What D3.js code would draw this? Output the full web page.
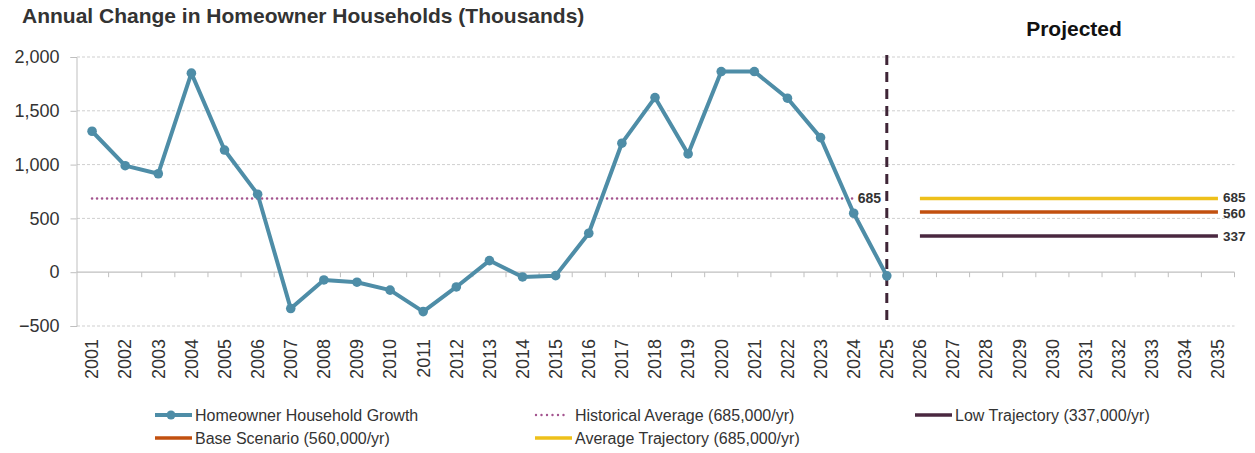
<!DOCTYPE html>
<html>
<head>
<meta charset="utf-8">
<script src="https://cdn.jsdelivr.net/npm/d3@7"></script>
<style>
  html, body { margin: 0; padding: 0; background: #fff; }
  svg { display: block; font-family: "Liberation Sans", Arial, sans-serif; }
</style>
</head>
<body>
<svg id="chart" width="1255" height="453"></svg>
<script>
// Historical years and annual change in homeowner households (thousands)
const histYears = [2001, 2002, 2003, 2004, 2005, 2006, 2007, 2008, 2009, 2010, 2011, 2012, 2013,
                   2014, 2015, 2016, 2017, 2018, 2019, 2020, 2021, 2022, 2023, 2024, 2025];
const histValues = [1310, 990, 915, 1850, 1135, 725, -338, -72, -93, -167, -366, -137, 108,
                    -44, -32, 362, 1199, 1623, 1099, 1865, 1865, 1617, 1251, 548, -34];

// Projection years
const projYears = [2026, 2027, 2028, 2029, 2030, 2031, 2032, 2033, 2034, 2035];
const allYears = histYears.concat(projYears);

// Reference levels (thousands per year)
const historicalAverage = 685;
const scenarioNames = ["Average Trajectory", "Base Scenario", "Low Trajectory"];
const scenarioValues = [685, 560, 337];
const scenarioColors = ["#EEC01A", "#C2500F", "#4A2840"];

const yTicks = [-500, 0, 500, 1000, 1500, 2000];

const legendLabels = [
  "Homeowner Household Growth",
  "Historical Average (685,000/yr)",
  "Low Trajectory (337,000/yr)",
  "Base Scenario (560,000/yr)",
  "Average Trajectory (685,000/yr)"
];

const growthColor = "#4E8DA7";
const avgColor = "#A3548F";
const dividerColor = "#3F2537";
const gridColor = "#cfcfcf";
const axisColor = "#bfbfbf";
const textColor = "#333333";

const svg = d3.select("#chart");

const x = d3.scaleBand().domain(allYears).range([75.5, 1234.5]).padding(0);
const cx = yr => x(yr) + x.bandwidth() / 2;
const y = d3.scaleLinear().domain([-500, 2000]).range([326, 57]);

// Title and section label
svg.append("text").attr("x", 22).attr("y", 23)
  .attr("font-size", 21).attr("font-weight", "bold").attr("fill", textColor)
  .text("Annual Change in Homeowner Households (Thousands)");
svg.append("text").attr("x", 1074).attr("y", 36).attr("text-anchor", "middle")
  .attr("font-size", 21).attr("font-weight", "bold").attr("fill", "#111")
  .text("Projected");

// Dashed horizontal gridlines
svg.append("g").selectAll("line").data(yTicks.filter(d => d !== 0)).join("line")
  .attr("x1", 77).attr("x2", 1234.5)
  .attr("y1", d => y(d)).attr("y2", d => y(d))
  .attr("stroke", gridColor).attr("stroke-width", 1).attr("stroke-dasharray", "3,2");

// Y axis
const yAxis = d3.axisLeft(y).tickValues(yTicks).tickSize(6).tickPadding(11)
  .tickFormat(d3.format(","));
const gy = svg.append("g").attr("transform", "translate(76.5,0)").call(yAxis);
gy.select(".domain").attr("stroke", axisColor);
gy.selectAll(".tick line").attr("stroke", axisColor);
gy.selectAll(".tick text").attr("font-size", 18).attr("fill", textColor)
  .attr("font-family", "Liberation Sans, Arial, sans-serif");

// Zero baseline with category boundary ticks
const zeroY = y(0);
svg.append("line").attr("x1", 76.5).attr("x2", 1234.5)
  .attr("y1", zeroY).attr("y2", zeroY).attr("stroke", axisColor).attr("stroke-width", 1.2);
svg.append("g").selectAll("line").data(allYears.slice(1).concat(["end"])).join("line")
  .attr("x1", d => d === "end" ? 1234.5 : x(d))
  .attr("x2", d => d === "end" ? 1234.5 : x(d))
  .attr("y1", zeroY).attr("y2", zeroY + 5)
  .attr("stroke", axisColor).attr("stroke-width", 1);

// Year labels along the bottom, rotated
svg.append("g").selectAll("text").data(allYears).join("text")
  .attr("transform", d => `translate(${cx(d)},339) rotate(-90)`)
  .attr("text-anchor", "end").attr("dy", "0.35em")
  .attr("font-size", 18).attr("fill", textColor)
  .text(d => d);

// Historical average (dotted)
svg.append("line")
  .attr("x1", cx(2001)).attr("x2", cx(2024))
  .attr("y1", y(historicalAverage)).attr("y2", y(historicalAverage))
  .attr("stroke", avgColor).attr("stroke-width", 2.6)
  .attr("stroke-dasharray", "0,5").attr("stroke-linecap", "round");
svg.append("text").attr("x", cx(2024) + 4).attr("y", y(historicalAverage))
  .attr("dy", "0.35em").attr("font-size", 14).attr("font-weight", "bold").attr("fill", textColor)
  .text(historicalAverage);

// Divider between history and projection
svg.append("line")
  .attr("x1", cx(2025)).attr("x2", cx(2025))
  .attr("y1", 55).attr("y2", 326)
  .attr("stroke", dividerColor).attr("stroke-width", 3)
  .attr("stroke-dasharray", "10,7");

// Homeowner household growth line
const line = d3.line().x((d, i) => cx(histYears[i])).y(d => y(d));
svg.append("path").datum(histValues)
  .attr("d", line).attr("fill", "none")
  .attr("stroke", growthColor).attr("stroke-width", 4).attr("stroke-linejoin", "round");
svg.append("g").selectAll("circle").data(histValues).join("circle")
  .attr("cx", (d, i) => cx(histYears[i])).attr("cy", d => y(d))
  .attr("r", 4.8).attr("fill", growthColor);

// Projection scenario lines and value labels
const first = projYears[0], last = projYears[projYears.length - 1];
svg.append("g").selectAll("line").data(scenarioValues).join("line")
  .attr("x1", cx(first)).attr("x2", cx(last))
  .attr("y1", d => y(d)).attr("y2", d => y(d))
  .attr("stroke", (d, i) => scenarioColors[i]).attr("stroke-width", 3.5);
// the two upper labels sit close together, so spread them by a pixel each
const labelNudge = [-1.2, 1.2, 0];
svg.append("g").selectAll("text").data(scenarioValues).join("text")
  .attr("x", cx(last) + 5).attr("y", (d, i) => y(d) + labelNudge[i]).attr("dy", "0.35em")
  .attr("font-size", 13.5).attr("font-weight", "bold").attr("fill", textColor)
  .text(d => d);

// Legend
const legendItems = [
  { label: legendLabels[0], kind: "marker", color: growthColor, col: 0, row: 0 },
  { label: legendLabels[1], kind: "dotted", color: avgColor, col: 1, row: 0 },
  { label: legendLabels[2], kind: "solid", color: scenarioColors[2], col: 2, row: 0 },
  { label: legendLabels[3], kind: "solid", color: scenarioColors[1], col: 0, row: 1 },
  { label: legendLabels[4], kind: "solid", color: scenarioColors[0], col: 1, row: 1 }
];
const legend = svg.append("g");
legendItems.forEach(it => {
  const lx = 155 + it.col * 380;
  const ly = 415 + it.row * 23;
  const g = legend.append("g");
  if (it.kind === "dotted") {
    g.append("line").attr("x1", lx + 1).attr("x2", lx + 34).attr("y1", ly).attr("y2", ly)
      .attr("stroke", it.color).attr("stroke-width", 2.4)
      .attr("stroke-dasharray", "0,5.5").attr("stroke-linecap", "round");
  } else {
    g.append("line").attr("x1", lx).attr("x2", lx + 37).attr("y1", ly).attr("y2", ly)
      .attr("stroke", it.color).attr("stroke-width", it.kind === "marker" ? 4 : 3.5);
    if (it.kind === "marker") {
      g.append("circle").attr("cx", lx + 16).attr("cy", ly).attr("r", 4.5).attr("fill", it.color);
    }
  }
  g.append("text").attr("x", lx + 40).attr("y", ly).attr("dy", "0.35em")
    .attr("font-size", 16).attr("fill", textColor).text(it.label);
});
</script>
</body>
</html>
